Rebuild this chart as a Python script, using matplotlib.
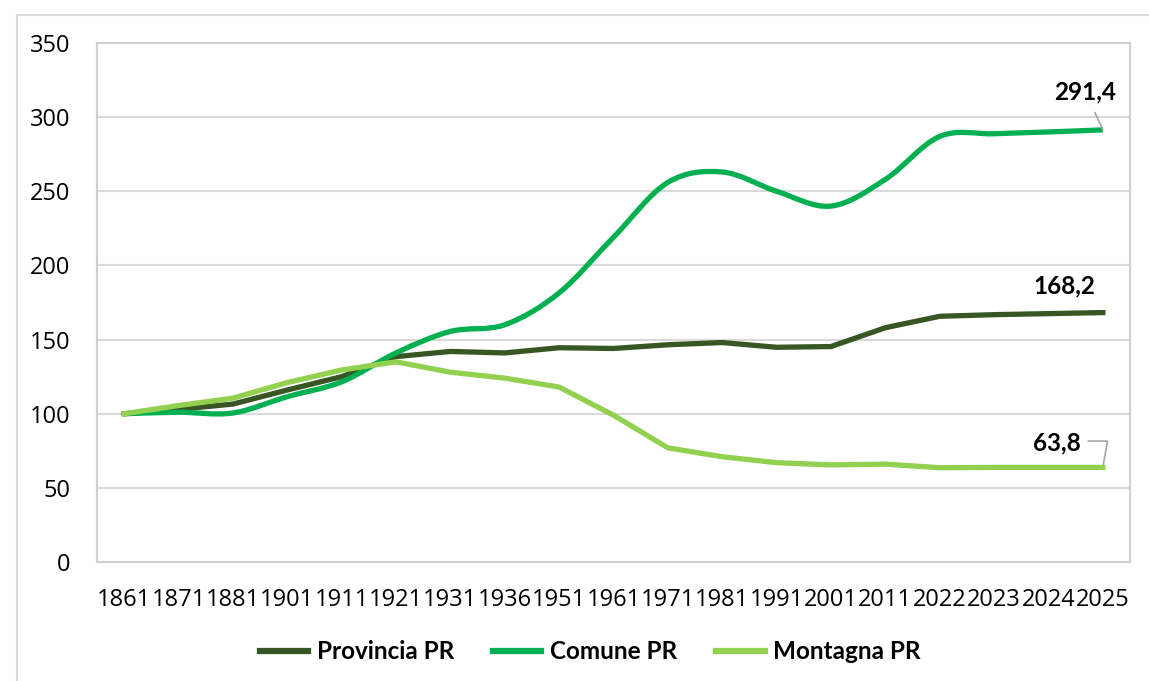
import numpy as np
import matplotlib.pyplot as plt
from matplotlib.path import Path
from matplotlib.patches import PathPatch
from matplotlib.lines import Line2D

years = ["1861", "1871", "1881", "1901", "1911", "1921", "1931", "1936", "1951", "1961",
         "1971", "1981", "1991", "2001", "2011", "2022", "2023", "2024", "2025"]

provincia = [100, 103, 106.5, 116, 125, 138.5, 142, 141, 144.5, 144,
             146.5, 148, 144.8, 145.3, 158, 165.7, 166.8, 167.5, 168.2]
comune = [100, 101, 100.5, 111.5, 121.5, 141, 155.5, 160, 181.5, 219,
          256, 263, 250, 240, 258, 287, 288.8, 290, 291.4]
montagna = [100, 105.5, 110.5, 121, 129.5, 135, 128, 124, 118, 99,
            77, 71, 67, 65.5, 66, 63.6, 63.8, 63.8, 63.8]

c_prov = "#375623"
c_com = "#00B050"
c_mont = "#92D050"

# ticks in Open Sans, bold labels / legend in Lato
plt.rcParams['font.family'] = ['Open Sans', 'DejaVu Sans']
bold_font = ['Lato', 'DejaVu Sans']

fig = plt.figure(figsize=(11.49, 6.81), dpi=100)
ax = fig.add_axes([0.0844, 0.1747, 0.8991, 0.7622])

x = np.arange(len(years))


def smooth_path(xs, ys):
    # excel-like smoothed line: bezier segments through each point
    pts = np.column_stack([xs, ys]).astype(float)
    n = len(pts)
    verts = [pts[0]]
    codes = [Path.MOVETO]
    for i in range(n - 1):
        p0 = pts[max(i - 1, 0)]
        p1 = pts[i]
        p2 = pts[i + 1]
        p3 = pts[min(i + 2, n - 1)]
        c1 = p1 + (p2 - p0) / 6
        c2 = p2 - (p3 - p1) / 6
        verts += [c1, c2, p2]
        codes += [Path.CURVE4] * 3
    return Path(verts, codes)


lw = 3.8
ax.plot(x, provincia, color=c_prov, lw=lw, solid_joinstyle='round', zorder=3)
ax.add_patch(PathPatch(smooth_path(x, comune), facecolor='none', edgecolor=c_com,
                       lw=lw, zorder=3))
ax.plot(x, montagna, color=c_mont, lw=lw, solid_joinstyle='round', zorder=4)

ax.set_xlim(-0.5, len(years) - 0.5)
ax.set_ylim(0, 350)
ax.set_yticks(np.arange(0, 351, 50))
ax.set_xticks(x)
ax.set_xticklabels(years)
ax.tick_params(axis='both', length=0, labelsize=17, colors='black')
ax.tick_params(axis='y', pad=19)
ax.tick_params(axis='x', pad=19)
ax.grid(axis='y', color='#D9D9D9', lw=1.5)
ax.set_axisbelow(True)
for s in ax.spines.values():
    s.set_color('#D0D0D0')
    s.set_linewidth(1.5)

# data labels on the last point
last = len(years) - 1
ax.annotate("291,4", xy=(last, comune[-1]), xytext=(last - 0.32, 317),
            ha='center', va='center', fontsize=17.5, fontweight='bold',
            family=bold_font,
            arrowprops=dict(arrowstyle='-', color='#A6A6A6', lw=1.2,
                            shrinkA=5, shrinkB=0))
ax.annotate("168,2", xy=(last, provincia[-1]), xytext=(last - 0.71, 186),
            ha='center', va='center', fontsize=17.5, fontweight='bold',
            family=bold_font)
ax.annotate("63,8", xy=(last, montagna[-1]), xytext=(last - 0.84, 80),
            ha='center', va='center', fontsize=17.5, fontweight='bold',
            family=bold_font,
            arrowprops=dict(arrowstyle='-', color='#A6A6A6', lw=1.2,
                            shrinkA=0, shrinkB=0,
                            connectionstyle='angle,angleA=0,angleB=80,rad=0',
                            relpos=(1.15, 0.6)))

handles = [Line2D([], [], color=c, lw=4.5) for c in (c_prov, c_com, c_mont)]
leg = fig.legend(handles, ["Provincia PR", "Comune PR", "Montagna PR"],
                 loc='center', bbox_to_anchor=(0.5135, 0.0426), ncol=3,
                 frameon=False, handlelength=2.0, handletextpad=0.35,
                 columnspacing=1.6,
                 prop={'size': 17.5, 'weight': 'bold', 'family': bold_font})

# outer chart frame
fig.add_artist(Line2D([17 / 1149, 17 / 1149], [0, 1 - 15 / 681],
                      transform=fig.transFigure, color='#D9D9D9', lw=1.5))
fig.add_artist(Line2D([17 / 1149, 1], [1 - 15 / 681, 1 - 15 / 681],
                      transform=fig.transFigure, color='#D9D9D9', lw=1.5))

fig.savefig("out.png", dpi=100)
